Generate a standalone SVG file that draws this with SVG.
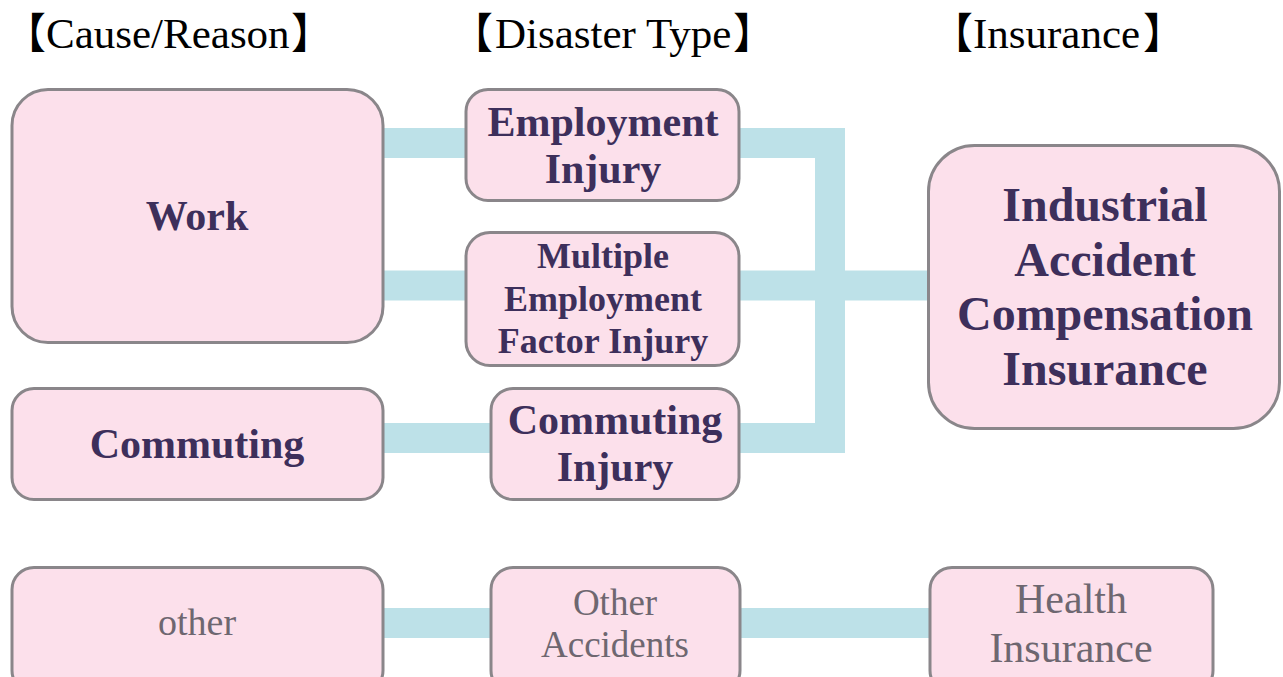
<svg xmlns="http://www.w3.org/2000/svg" width="1283" height="677" viewBox="0 0 1283 677">
<style>
.hdr{font-family:"Liberation Serif","Noto Sans CJK JP",serif;font-size:43px;fill:#000}
.br{font-family:"Noto Sans CJK JP",sans-serif;font-size:42px}
.box{fill:#fce0eb;stroke:#8a868a;stroke-width:3}
.t{font-family:"Liberation Serif","Times New Roman",serif;font-weight:bold;fill:#3d2f5b;text-anchor:middle}
.g{font-family:"Liberation Serif","Times New Roman",serif;fill:#6e6770;text-anchor:middle}
.c{fill:none;stroke:#bde1e8;stroke-width:30;stroke-linejoin:miter}
</style>
<rect width="1283" height="677" fill="#fff"/>
<g id="headers">
<text class="hdr" y="48"><tspan class="br" x="4">【</tspan><tspan x="46">Cause/Reason</tspan><tspan class="br" x="291">】</tspan></text>
<text class="hdr" y="48"><tspan class="br" x="451">【</tspan><tspan x="495">Disaster Type</tspan><tspan class="br" x="733">】</tspan></text>
<text class="hdr" y="48"><tspan class="br" x="931">【</tspan><tspan x="973">Insurance</tspan><tspan class="br" x="1143">】</tspan></text>
</g>
<g id="connectors">
<path class="c" d="M383 143H466"/>
<path class="c" d="M383 285.5H466"/>
<path class="c" d="M383 438H491"/>
<path class="c" d="M739 143H830V438H739"/>
<path class="c" d="M739 285.5H929"/>
<path class="c" d="M383 623H491"/>
<path class="c" d="M740 623H930"/>
</g>
<g id="work">
<rect class="box" x="12" y="89.5" width="371" height="253" rx="36"/>
<text class="t" x="197" y="230" font-size="42">Work</text>
</g>
<g id="commuting">
<rect class="box" x="12" y="388.5" width="371" height="111" rx="22"/>
<text class="t" x="197" y="458" font-size="42">Commuting</text>
</g>
<g id="other">
<rect class="box" x="12" y="567.5" width="371" height="125" rx="22"/>
<text class="g" x="197" y="635" font-size="38">other</text>
</g>
<g id="employment-injury">
<rect class="box" x="466" y="89.5" width="273" height="111" rx="22"/>
<text class="t" x="603" y="136" font-size="42">Employment</text>
<text class="t" x="603" y="183" font-size="42">Injury</text>
</g>
<g id="multiple-injury">
<rect class="box" x="466" y="232.5" width="273" height="133" rx="24"/>
<text class="t" x="603" y="268" font-size="36">Multiple</text>
<text class="t" x="603" y="311" font-size="36">Employment</text>
<text class="t" x="603" y="353" font-size="36">Factor Injury</text>
</g>
<g id="commuting-injury">
<rect class="box" x="491" y="388.5" width="248" height="111" rx="22"/>
<text class="t" x="615" y="434" font-size="42">Commuting</text>
<text class="t" x="615" y="481" font-size="42">Injury</text>
</g>
<g id="other-accidents">
<rect class="box" x="491" y="567.5" width="249" height="125" rx="22"/>
<text class="g" x="615" y="615" font-size="37">Other</text>
<text class="g" x="615" y="657" font-size="37">Accidents</text>
</g>
<g id="industrial-insurance">
<rect class="box" x="928.5" y="145.5" width="351" height="283" rx="46"/>
<text class="t" x="1105" y="221" font-size="48">Industrial</text>
<text class="t" x="1105" y="276" font-size="48">Accident</text>
<text class="t" x="1105" y="330" font-size="48">Compensation</text>
<text class="t" x="1105" y="385" font-size="48">Insurance</text>
</g>
<g id="health-insurance">
<rect class="box" x="930" y="567.5" width="283" height="125" rx="22"/>
<text class="g" x="1071" y="613" font-size="42">Health</text>
<text class="g" x="1071" y="662" font-size="42">Insurance</text>
</g>
</svg>
